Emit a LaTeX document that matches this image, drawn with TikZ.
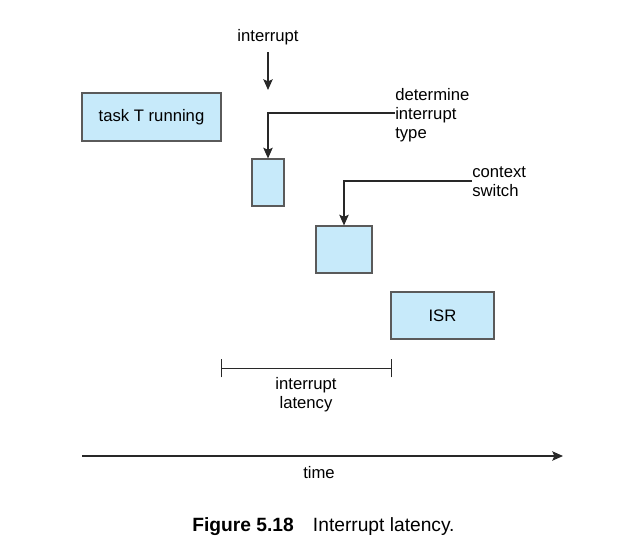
\documentclass[tikz,border=0pt]{standalone}
\usepackage{fontspec}
\setmainfont{Liberation Sans}
\usetikzlibrary{arrows.meta}

\definecolor{boxblue}{RGB}{199,234,250}
\definecolor{boxline}{RGB}{90,90,90}
\definecolor{inkline}{RGB}{40,40,40}

\tikzset{
	taskbox/.style={draw=boxline, fill=boxblue, line width=0.8pt, inner sep=0pt},
	lbl/.style={font=\fontsize{12.5}{14.3}\selectfont, align=left, inner sep=0pt},
	conn/.style={draw=inkline, line width=1.3pt, -{Stealth[length=8pt, width=7pt, inset=1.5pt]}},
}

\begin{document}
\begin{tikzpicture}[x=0.75pt, y=-0.75pt]
	\useasboundingbox (0,0) rectangle (627,558);

	% boxes
	\node[taskbox, minimum width=104.25pt, minimum height=36pt] (task) at (151.5,117) {};
	\node[lbl] at (task.center) {task T running};
	\node[taskbox, minimum width=24pt, minimum height=35.25pt] (dispatch) at (268,182.5) {};
	\node[taskbox, minimum width=42pt, minimum height=35.25pt] (ctx) at (344,249.5) {};
	\node[taskbox, minimum width=77.25pt, minimum height=35.25pt] (isr) at (442.5,315.5) {};
	\node[lbl] at (isr.center) {ISR};

	% interrupt arrives
	\node[lbl] (intr) at (268,37) {interrupt};
	\coordinate (intrtop) at (268,52);
	\coordinate (intrend) at (268,90);
	\draw[conn] (intrtop) -- (intrend);

	% determine interrupt type
	\node[lbl, anchor=west] (detlbl) at (395,115) {determine\\interrupt\\type};
	\draw[conn] ([yshift=1.5pt]detlbl.west) -| (dispatch.north);

	% context switch
	\node[lbl, anchor=west] (ctxlbl) at (472,182) {context\\switch};
	\draw[conn] ([yshift=1pt]ctxlbl.west) -| (ctx.north);

	% latency bar
	\coordinate (latA) at (221,368);
	\coordinate (latB) at (391,368);
	\draw[draw=inkline, line width=0.7pt] (latA) -- (latB);
	\draw[draw=inkline, line width=0.7pt] ([yshift=-7pt]latA) -- ([yshift=7pt]latA);
	\draw[draw=inkline, line width=0.7pt] ([yshift=-7pt]latB) -- ([yshift=7pt]latB);
	\node[lbl, align=center] (latlbl) at (306,395) {interrupt\\latency};

	% time axis
	\coordinate (tstart) at (82,456);
	\coordinate (tend) at (563,456);
	\draw[conn] (tstart) -- (tend);
	\node[lbl] (timelbl) at (319,473) {time};

	% caption
	\node[lbl, font=\fontsize{14.4}{16}\selectfont] (caption) at (323.5,527) {\textbf{Figure 5.18}\quad Interrupt latency.};
\end{tikzpicture}
\end{document}
